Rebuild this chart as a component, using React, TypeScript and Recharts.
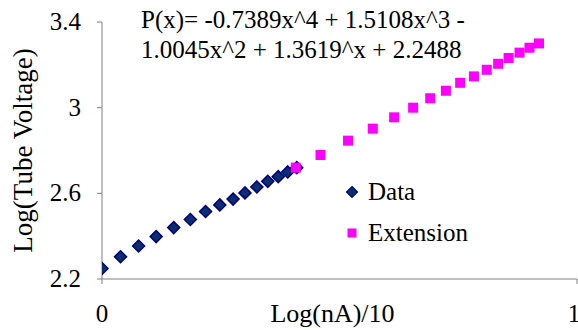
import React from 'react';
import { ScatterChart, Scatter, XAxis, YAxis, Label, Legend, Customized } from 'recharts';

const dataX = [0, 0.039, 0.077, 0.114, 0.151, 0.186, 0.218, 0.248, 0.276, 0.301, 0.326, 0.349, 0.371, 0.391, 0.41];
const dataY = [2.2488, 2.304, 2.354, 2.398, 2.44, 2.478, 2.515, 2.546, 2.573, 2.602, 2.63, 2.656, 2.678, 2.7, 2.72];
const extX = [0.408, 0.46, 0.518, 0.57, 0.615, 0.655, 0.691, 0.724, 0.754, 0.783, 0.81, 0.834, 0.856, 0.879, 0.9, 0.92];
const extY = [2.72, 2.779, 2.846, 2.902, 2.955, 3.0, 3.044, 3.079, 3.116, 3.146, 3.177, 3.205, 3.232, 3.257, 3.28, 3.3];
const xTicks = [0, 1];
const yTicks = [2.2, 2.6, 3, 3.4];
const equationLines = ['P(x)= -0.7389x^4 + 1.5108x^3 -', '1.0045x^2 + 1.3619^x + 2.2488'];
const seriesNames = ['Data', 'Extension'];
const xTitle = 'Log(nA)/10';
const yTitle = 'Log(Tube Voltage)';

const FONT = "'Liberation Serif', 'Times New Roman', serif";
const NAVY = '#000080';
const NAVY_FILL = '#0a2f6b';
const MAGENTA = '#ff00ff';

const dataPts = dataX.map((x, i) => ({ x, y: dataY[i] }));
const extPts = extX.map((x, i) => ({ x, y: extY[i] }));

const Diamond = (props: any) => {
  const { cx, cy } = props;
  const r = 6;
  return (
    <polygon
      points={`${cx},${cy - r} ${cx + r},${cy} ${cx},${cy + r} ${cx - r},${cy}`}
      fill={NAVY_FILL}
      stroke={NAVY}
      strokeWidth={1.5}
    />
  );
};

const Square = (props: any) => {
  const { cx, cy } = props;
  const s = 10;
  return <rect x={cx - s / 2} y={cy - s / 2} width={s} height={s} fill={MAGENTA} />;
};

const Equation = () => (
  <g>
    {equationLines.map((t, i) => (
      <text key={i} x={141} y={28 + i * 30} fontFamily={FONT} fontSize={25} fill="#000">
        {t}
      </text>
    ))}
  </g>
);

const XTick = (props: any) => {
  const { x, y, payload } = props;
  return (
    <text x={x} y={y} dy={20} textAnchor="middle" fontFamily={FONT} fontSize={25} fill="#000">
      {payload.value}
    </text>
  );
};

const YTick = (props: any) => {
  const { x, y, payload } = props;
  return (
    <text x={x} y={y} dy={8} textAnchor="end" fontFamily={FONT} fontSize={25} fill="#000">
      {payload.value}
    </text>
  );
};

const renderLegend = () => (
  <div style={{ fontFamily: FONT, fontSize: 25, color: '#000' }}>
    {seriesNames.map((n, i) => (
      <div key={n} style={{ display: 'flex', alignItems: 'center', height: 41 }}>
        <svg width={14} height={14} style={{ marginRight: 9 }}>
          {i === 0 ? (
            <polygon points="7,1.5 12.5,7 7,12.5 1.5,7" fill={NAVY_FILL} stroke={NAVY} strokeWidth={1.2} />
          ) : (
            <rect x={2.5} y={2.5} width={9} height={9} fill={MAGENTA} />
          )}
        </svg>
        <span>{n}</span>
      </div>
    ))}
  </div>
);

export default function App() {
  return (
    <div style={{ position: 'absolute', left: 0, top: 0, width: 578, height: 330, background: '#fff', fontFamily: FONT }}>
      <ScatterChart
        width={578}
        height={330}
        margin={{ top: 22, right: 1, bottom: 0, left: 0 }}
      >
        <XAxis
          type="number"
          dataKey="x"
          domain={[0, 1]}
          ticks={xTicks}
          allowDataOverflow
          height={51}
          axisLine={{ stroke: '#808080' }}
          tickLine={{ stroke: '#808080' }}
          tickSize={5}
          tickMargin={18}
          tick={<XTick />}
        >
          <Label
            value={xTitle}
            position="insideBottom"
            offset={8}
            dx={-7}
            fontSize={26}
            style={{ fill: '#000', fontSize: 26, fontFamily: FONT }}
          />
        </XAxis>
        <YAxis
          type="number"
          dataKey="y"
          domain={[2.2, 3.4]}
          ticks={yTicks}
          allowDataOverflow
          width={102}
          axisLine={{ stroke: '#808080' }}
          tickLine={{ stroke: '#808080' }}
          tickSize={5}
          tickMargin={16}
          tick={<YTick />}
        >
          <Label
            value={yTitle}
            angle={-90}
            position="insideLeft"
            offset={22}
            fontSize={27}
            style={{ fill: '#000', fontSize: 27, fontFamily: FONT, textAnchor: 'middle' }}
          />
        </YAxis>
        <Scatter name={seriesNames[0]} data={dataPts} shape={Diamond} isAnimationActive={false} />
        <Scatter name={seriesNames[1]} data={extPts} shape={Square} isAnimationActive={false} />
        <Legend
          layout="vertical"
          align="center"
          verticalAlign="middle"
          content={renderLegend}
          wrapperStyle={{ left: 345, top: 171, width: 160 }}
        />
        <Customized component={Equation} />
      </ScatterChart>
    </div>
  );
}
